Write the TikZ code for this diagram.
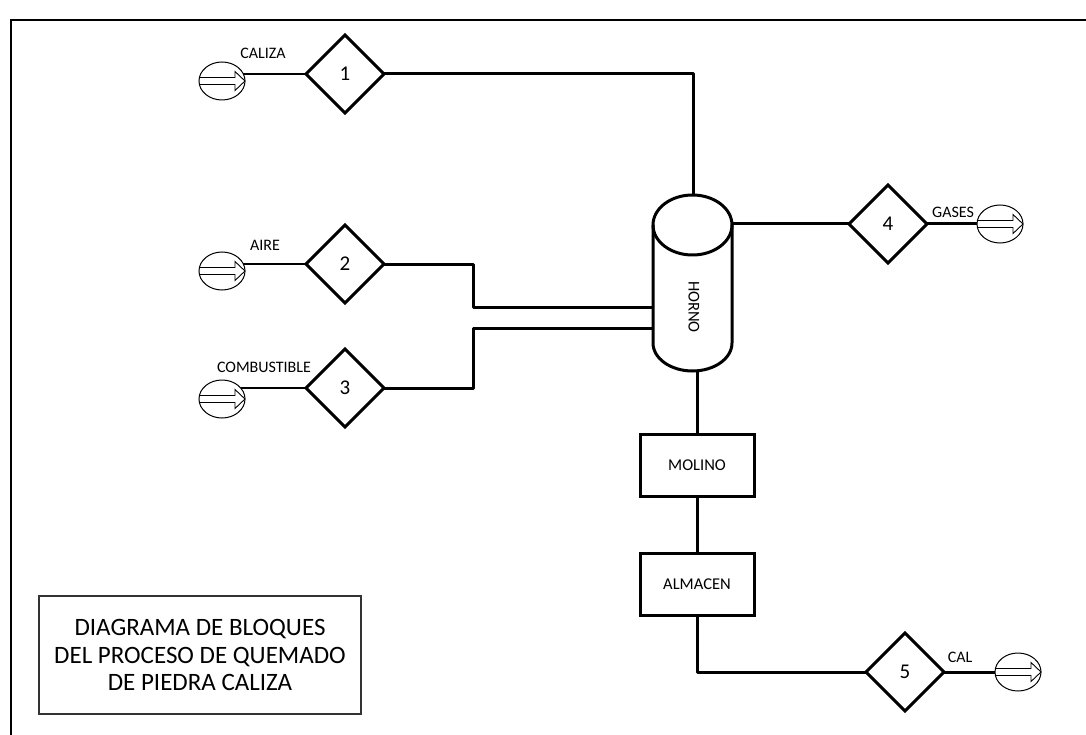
\documentclass[tikz,border=0pt]{standalone}
\usepackage{fontspec}
\setmainfont{Carlito}
\usetikzlibrary{shapes.geometric}

\newcommand{\feedarrow}[1]{%
  \draw[line width=0.9pt] (#1.west) ++(1,-3.5) -- ++(35,0) -- ++(0,-6)
    -- (#1.east) -- ++(-10,9.5) -- ++(0,-6) -- ++(-35,0);}

\begin{document}
\begin{tikzpicture}[x=1pt, y=-1pt,
  flow/.style={line width=3pt, line join=round},
  feedline/.style={line width=1.3pt},
  feed/.style={ellipse, draw, line width=1pt, minimum width=46pt,
    minimum height=38pt, inner sep=0pt, outer sep=0pt},
  point/.style={diamond, draw, line width=3pt, minimum width=78pt,
    minimum height=78pt, inner sep=0pt, outer sep=0pt,
    font=\fontsize{21}{25}\selectfont},
  unit/.style={rectangle, draw, line width=3pt, minimum width=114pt,
    minimum height=62pt, outer sep=0pt, font=\fontsize{16.5}{20}\selectfont},
  tag/.style={font=\fontsize{16}{19}\selectfont, inner sep=0pt}]
  \useasboundingbox (0,0) rectangle (1086,735);
  \draw[line width=2pt] (11,735) -- (11,20) -- (1086,20);

  % entradas
  \node[feed] (in1) at (222,81) {};
  \node[feed] (in2) at (222,271) {};
  \node[feed] (in3) at (222,399) {};
  \feedarrow{in1}
  \feedarrow{in2}
  \feedarrow{in3}
  \node[point] (d1) at (345,74) {1};
  \node[point] (d2) at (345,264) {2};
  \node[point] (d3) at (345,388) {3};
  \node[tag] (caliza) at (263,53) {CALIZA};
  \node[tag] (aire) at (265,245) {AIRE};
  \node[tag] (combustible) at (264,367) {COMBUSTIBLE};
  \draw[feedline] (in1.18) -- (in1.18 -| d1.west);
  \draw[feedline] (in2.18) -- (in2.18 -| d2.west);
  \draw[feedline] (in3.30) -- (in3.30 -| d3.west);

  % horno
  \draw[flow] (692.5,225) ellipse [x radius=39.5, y radius=30];
  \draw[flow] (653,225) -- (653,343)
    arc[start angle=180, end angle=0, x radius=39.5, y radius=28] -- (732,225);
  \node[tag, rotate=-90, font=\fontsize{16.5}{20}\selectfont] (horno) at (694,307) {HORNO};
  \coordinate (hornoN) at (693,195);
  \coordinate (hornoE) at (732,224);
  \coordinate (hornoW1) at (653,307);
  \coordinate (hornoW2) at (653,328);
  \coordinate (hornoS) at (697,370);
  \coordinate (mix1) at (473,307);
  \coordinate (mix2) at (473,328);

  \node[unit] (molino) at (697,465) {MOLINO};
  \node[unit] (almacen) at (697,584.5) {ALMACEN};

  % salidas
  \node[point] (d4) at (888,224) {4};
  \node[point] (d5) at (905,672) {5};
  \node[feed] (out4) at (1000,224) {};
  \node[feed] (out5) at (1018,672) {};
  \feedarrow{out4}
  \feedarrow{out5}
  \node[tag] (gases) at (953,212) {GASES};
  \node[tag] (cal) at (960,657) {CAL};

  \draw[flow] (d1.east) -| (hornoN);
  \draw[flow] (d2.east) -| (mix1) -- (hornoW1);
  \draw[flow] (hornoW2) -- (mix2) |- (d3.east);
  \draw[flow] (hornoE) -- (d4.west);
  \draw[flow] (d4.east) -- (out4.west);
  \draw[flow] (hornoS) -- (molino.north);
  \draw[flow] (molino.south) -- (almacen.north);
  \draw[flow] (almacen.south) |- (d5.west);
  \draw[flow] (d5.east) -- (out5.west);

  \node[draw=black!80, line width=1.5pt, minimum width=322pt, minimum height=118pt,
    align=center, font=\fontsize{25}{27.5}\selectfont] (titulo) at (200,655)
    {DIAGRAMA DE BLOQUES\\DEL PROCESO DE QUEMADO\\DE PIEDRA CALIZA};
\end{tikzpicture}
\end{document}
